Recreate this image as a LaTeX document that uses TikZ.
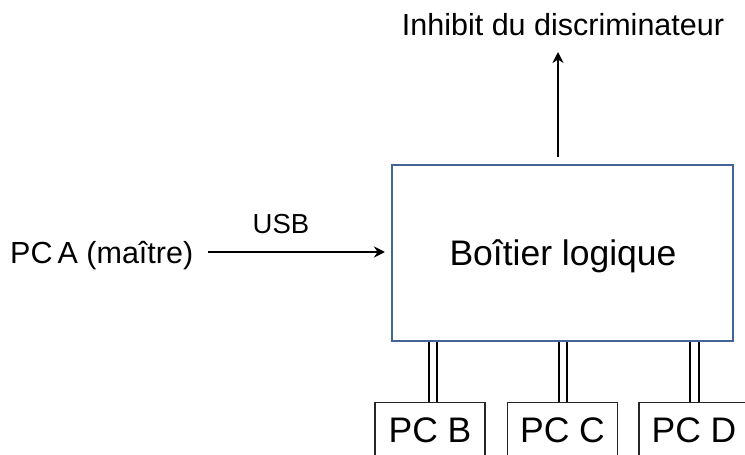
\documentclass[tikz,border=0pt]{standalone}
\usepackage{fontspec}
\setmainfont{Liberation Sans}
\usetikzlibrary{arrows.meta}
\definecolor{boxblue}{RGB}{65,101,148}
\begin{document}
\begin{tikzpicture}[x=1pt,y=-1pt,
  lbl/.style={inner sep=0pt,font=\fontsize{30.5}{33}\selectfont},
  mainbox/.style={draw=boxblue,line width=2pt,minimum width=341pt,minimum height=176pt,inner sep=0pt},
  pcbox/.style={draw=black!85,line width=1.2pt,minimum width=110pt,minimum height=80pt,inner sep=0pt,anchor=north},
  pclbl/.style={inner sep=0pt,anchor=base,font=\fontsize{35.5}{40}\selectfont},
  arr/.style={line width=2.2pt,-{Stealth[length=11pt,width=11pt,inset=3.5pt]}},
  dbl/.style={double=white,double distance=6.5pt,line width=2pt,draw=black}]
\useasboundingbox (0,0) rectangle (745,455);
\clip (0,0) rectangle (745,455);
\node[mainbox] (main) at (562.5,253) {};
\node[pclbl] (maintxt) at (563,265) {Boîtier logique};
\node[lbl,anchor=base] (inh) at (563,35) {Inhibit du discriminateur};
\node[lbl,anchor=base west] (pca) at (10,263) {PC\,A (maître)};
\node[lbl,anchor=base,font=\fontsize{27.5}{30}\selectfont] (usb) at (281,233) {USB};
\coordinate (arrend) at (385,252);
\coordinate (arrstart) at (208,252);
\draw[arr] (arrstart) -- (arrend);
\coordinate (topstart) at (558,157);
\coordinate (topend) at (558,52);
\draw[arr] (topstart) -- (topend);
\node[pcbox] (pcb) at (430,402) {};
\node[pcbox] (pcc) at (562.5,402) {};
\node[pcbox] (pcd) at (694,402) {};
\node[pclbl] (pcbt) at (430,442) {PC B};
\node[pclbl] (pcct) at (562.5,442) {PC C};
\node[pclbl] (pcdt) at (694,442) {PC D};
\draw[dbl] ([xshift=3pt]pcb.north) -- ([xshift=3pt]pcb.north |- main.south);
\draw[dbl] ([xshift=0.5pt]pcc.north) -- ([xshift=0.5pt]pcc.north |- main.south);
\draw[dbl] ([xshift=0.5pt]pcd.north) -- ([xshift=0.5pt]pcd.north |- main.south);
\end{tikzpicture}
\end{document}
